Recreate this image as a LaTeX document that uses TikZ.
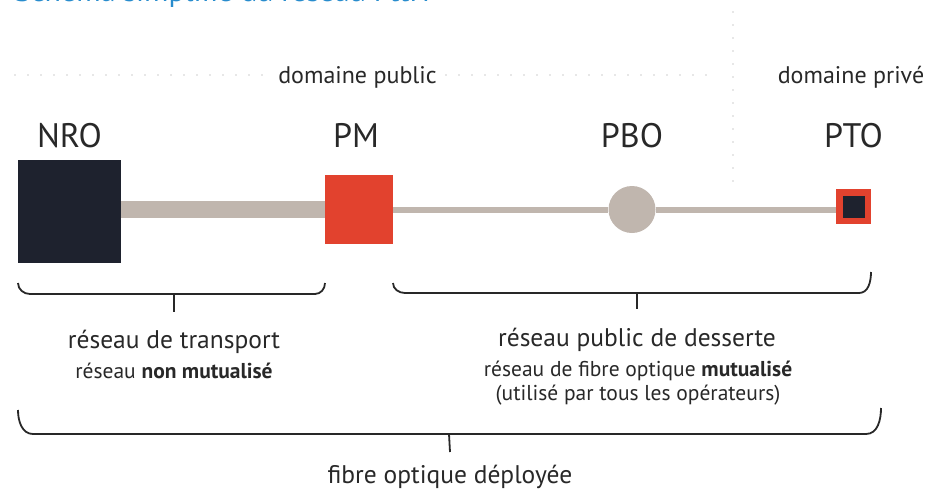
\documentclass[tikz,border=0pt]{standalone}
\usepackage{fontspec}
\setmainfont{PT Sans}
\usetikzlibrary{positioning,calc}
\definecolor{fibre}{RGB}{192,182,174}
\definecolor{rouge}{RGB}{226,66,46}
\definecolor{nuit}{RGB}{30,34,46}
\definecolor{bleutitre}{RGB}{40,140,205}
\definecolor{encre}{RGB}{40,40,40}
\definecolor{gristrait}{RGB}{150,150,150}

\begin{document}
\begin{tikzpicture}[x=1pt,y=-1pt,
  boite/.style={rectangle,inner sep=0pt,outer sep=0pt,draw=none},
  sigle/.style={font=\fontsize{34}{34}\selectfont,text=encre,inner sep=0pt,anchor=base},
  domaine/.style={font=\fontsize{24}{24}\selectfont,text=encre,inner xsep=9pt,inner ysep=0pt,anchor=base},
  titre/.style={font=\fontsize{25.5}{28}\selectfont,text=encre,inner sep=0pt,anchor=base},
  sous/.style={font=\fontsize{21.5}{24}\selectfont,text=encre,inner sep=0pt,anchor=base},
  pointille/.style={gristrait,line width=1.3pt,line cap=round,dash pattern=on 0pt off 13pt},
  accolade/.style={encre,line width=1.8pt},
  cable/.style={fibre,line width=#1}]

\useasboundingbox (0,0) rectangle (933,490);

        \node[font=\fontsize{30}{30}\selectfont,text=bleutitre,inner sep=0pt,anchor=base west] (T) at (15,1) {Schéma simplifié du réseau FttH};

        \node[domaine] (pub) at (357.5,83) {domaine public};
        \node[domaine] (priv) at (851,83) {domaine privé};
        \coordinate (gauche) at (15,75);
        \coordinate (droite) at (712,75);
        \coordinate (haut) at (733,12);
        \coordinate (bas) at (733,185);
        \draw[pointille] (gauche) -- (pub.west |- gauche);
        \draw[pointille] (pub.east |- droite) -- (droite);
        \draw[pointille] (haut) -- (bas);

        \node[boite,fill=nuit,minimum size=103pt] (NRO) at (69.5,211.5) {};
        \node[boite,fill=rouge,minimum width=68pt,minimum height=69pt] (PM) at (359,209.5) {};
        \node[circle,fill=fibre,inner sep=0pt,minimum size=47pt] (PBO) at (632,209.5) {};
        \node[boite,fill=rouge,minimum size=35pt] (PTO) at (853.5,206.5) {};
        \node[boite,fill=nuit,minimum size=22pt] (PTOc) at (PTO) {};

        \draw[cable=17pt] (NRO.east |- PM) -- (PM);
        \draw[cable=6pt] (PM) -- (PBO);
        \draw[cable=6pt] (PBO) -- (PTO.west |- PBO);

        \node[sigle] (lNRO) at (NRO |- 0,147) {NRO};
        \node[sigle] (lPM) at (356,147) {PM};
        \node[sigle] (lPBO) at (PBO |- 0,147) {PBO};
        \node[sigle] (lPTO) at (PTO |- 0,147) {PTO};

        \draw[accolade] (NRO.west |- 0,283) to[out=-90,in=180] (30,294) -- (315,294) to[out=0,in=-90] (PM.west |- 0,283);
        \draw[accolade] (PM.east |- 0,283) to[out=-90,in=180] (405,293) -- (859,293) to[out=0,in=-90] (PTO.east |- 0,272);
        \draw[accolade] (NRO.west |- 0,410) to[out=-90,in=180] (33,434) -- (866,434) to[out=0,in=-90] (881,408);

        \node[titre] (transport) at (174,348) {réseau de transport};
        \node[sous] (nonmut) at (174,378) {réseau \textbf{non mutualisé}};
        \node[titre] (desserte) at (637,346) {réseau public de desserte};
        \node[sous] (mut) at (638,376) {réseau de fibre optique \textbf{mutualisé}};
        \node[sous] (ops) at (638,400) {(utilisé par tous les opérateurs)};
        \node[titre] (deploy) at (450,483) {fibre optique déployée};

        \draw[accolade] (174,294) -- (transport.north |- 0,312);
        \draw[accolade] (637,293) -- (desserte.north |- 0,309);
        \draw[accolade] (449,434) -- (deploy.north |- 0,452);
      \end{tikzpicture}
\end{document}
